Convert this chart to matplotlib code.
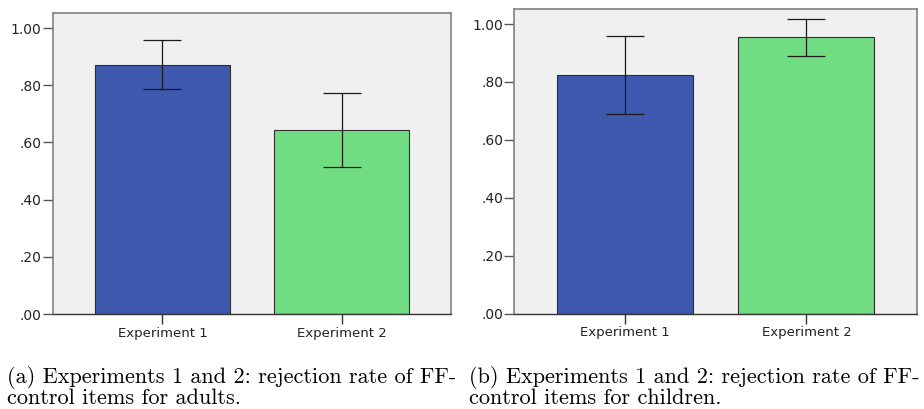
import matplotlib.pyplot as plt

# Daten
categories = ["Experiment 1", "Experiment 2"]
adults_mean = [0.872, 0.643]
adults_low = [0.786, 0.514]
adults_high = [0.958, 0.773]
children_mean = [0.824, 0.955]
children_low = [0.688, 0.891]
children_high = [0.960, 1.018]
tick_vals = [0.0, 0.2, 0.4, 0.6, 0.8, 1.0]
tick_labels = [".00", ".20", ".40", ".60", ".80", "1.00"]
captions = [
    "(a) Experiments 1 and 2: rejection rate of FF-\ncontrol items for adults.",
    "(b) Experiments 1 and 2: rejection rate of FF-\ncontrol items for children.",
]

bar_colors = ["#3d58ac", "#70dd83"]

fig = plt.figure(figsize=(9.24, 4.09), dpi=100)

panels = [
    ([52.7 / 924, 1 - 314 / 409, 398.6 / 924, 301.3 / 409], adults_mean, adults_low, adults_high, 1.054),
    ([514.3 / 924, 1 - 313.7 / 409, 403.0 / 924, 304.7 / 409], children_mean, children_low, children_high, 1.052),
]

for i, (rect, mean, low, high, ytop) in enumerate(panels):
    ax = fig.add_axes(rect)
    ax.set_facecolor("#f0f0f0")
    x = list(range(len(categories)))
    ax.bar(x, mean, width=0.75, color=bar_colors, edgecolor="#2e2e2e", linewidth=0.8, zorder=2)
    yerr = [[m - l for m, l in zip(mean, low)], [h - m for m, h in zip(mean, high)]]
    ax.errorbar(x, mean, yerr=yerr, fmt="none", ecolor="#1a1a1a", elinewidth=0.9,
                capsize=14, capthick=0.9, zorder=3)
    ax.set_xlim(-0.612, 1.612)
    ax.set_ylim(0, ytop)
    ax.set_yticks(tick_vals)
    ax.set_yticklabels(tick_labels)
    ax.set_xticks(x)
    ax.set_xticklabels(categories)
    for s in ["top", "right", "left"]:
        ax.spines[s].set_color("#808080")
        ax.spines[s].set_linewidth(1.2)
    ax.spines["bottom"].set_color("#333333")
    ax.spines["bottom"].set_linewidth(1.0)
    ax.tick_params(axis="y", length=7, width=1.0, color="#555555", labelsize=10,
                   labelcolor="#222222", pad=1)
    ax.tick_params(axis="x", length=7, width=1.0, color="#333333", labelsize=9.5,
                   labelcolor="#222222", pad=2)
    cx = 7 / 924 if i == 0 else 469 / 924
    fig.text(cx, 1 - 366 / 409, captions[i], fontfamily="cmr10", fontsize=16,
             ha="left", va="top", linespacing=0.95)

fig.savefig("out.png", dpi=100)
